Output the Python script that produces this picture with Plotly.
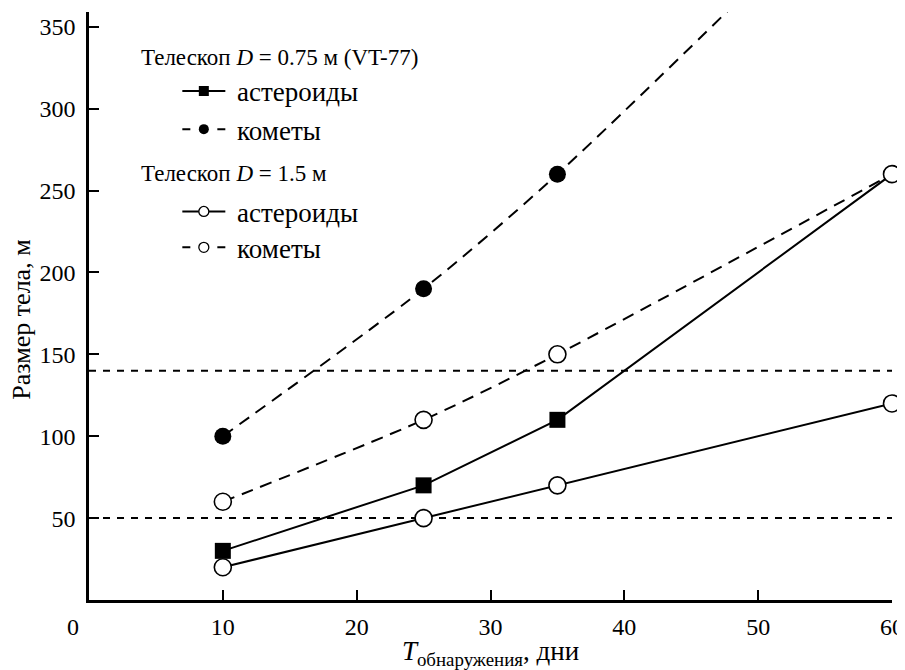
import plotly.graph_objects as go

# ---- data ----
days = [10, 25, 35, 60]
ast_075 = [30, 70, 110, 260]      # Telescope 0.75 m, asteroids
com_075 = [100, 190, 260, 458]    # Telescope 0.75 m, comets (last point off-scale)
ast_15 = [20, 50, 70, 120]        # Telescope 1.5 m, asteroids
com_15 = [60, 110, 150, 260]      # Telescope 1.5 m, comets
thresholds = [50, 140]
x_range = [0, 60]
x_ticks = [10, 20, 30, 40, 50, 60]
y_ticks = [50, 100, 150, 200, 250, 300, 350]

FONT = "Times New Roman"
FS_TICK = 24
FS_HEAD = 23
FS_LEG = 27
FS_XT = 27
FS_YT = 26
BLACK = "black"

fig = go.Figure()

for t in thresholds:
    fig.add_trace(go.Scatter(
        x=x_range, y=[t, t], mode="lines",
        line=dict(color=BLACK, width=2, dash="7px,7px"),
        showlegend=False, hoverinfo="skip"))

fig.add_trace(go.Scatter(
    x=days, y=ast_075, mode="lines+markers",
    line=dict(color=BLACK, width=2),
    marker=dict(symbol="square", size=[16, 16, 16, 0], color=BLACK, opacity=1,
                line=dict(width=0)),
    showlegend=False, cliponaxis=False))

fig.add_trace(go.Scatter(
    x=days, y=ast_15, mode="lines+markers",
    line=dict(color=BLACK, width=2),
    marker=dict(symbol="circle", size=17, color="white", opacity=1,
                line=dict(color=BLACK, width=1.6)),
    showlegend=False, cliponaxis=False))

fig.add_trace(go.Scatter(
    x=days, y=com_075, mode="lines+markers",
    line=dict(color=BLACK, width=2, dash="12px,8px", shape="spline", smoothing=0.8),
    marker=dict(symbol="circle", size=17, color=BLACK, opacity=1, line=dict(width=0)),
    showlegend=False, cliponaxis=True))

fig.add_trace(go.Scatter(
    x=days, y=com_15, mode="lines+markers",
    line=dict(color=BLACK, width=2, dash="12px,8px", shape="spline", smoothing=0.8),
    marker=dict(symbol="circle", size=17, color="white", opacity=1,
                line=dict(color=BLACK, width=1.6)),
    showlegend=False, cliponaxis=False))

legend_items = [
    ("астероиды", "square", BLACK, "solid", "legend"),
    ("кометы", "circle", BLACK, "8px,27px", "legend2"),
    ("астероиды", "circle", "white", "solid", "legend3"),
    ("кометы", "circle", "white", "8px,27px", "legend4"),
]
for name, sym, fill, dash, lg in legend_items:
    fig.add_trace(go.Scatter(
        x=[None], y=[None], mode="lines+markers", name="\u00a0" + name,
        line=dict(color=BLACK, width=2, dash=dash),
        marker=dict(symbol=sym, size=10, color=fill, opacity=1,
                    line=dict(color=BLACK, width=1.3 if fill == "white" else 0)),
        legend=lg, showlegend=True))

leg_rows_y = [0.865, 0.800, 0.660, 0.599]
common_leg = dict(x=0.11, xanchor="left", yanchor="middle", itemwidth=43,
                  font=dict(family=FONT, size=FS_LEG, color=BLACK),
                  bgcolor="rgba(0,0,0,0)", borderwidth=0)

# page body has an 8px margin: figure is sized/offset so the plot area sits
# at the same window pixels as in the reference
fig.update_layout(
    width=897, height=662,
    margin=dict(l=81, r=13, t=4, b=70, autoexpand=False),
    paper_bgcolor="white", plot_bgcolor="white",
    font=dict(family=FONT, size=FS_TICK, color=BLACK),
    legend=dict(y=leg_rows_y[0], **common_leg),
    legend2=dict(y=leg_rows_y[1], **common_leg),
    legend3=dict(y=leg_rows_y[2], **common_leg),
    legend4=dict(y=leg_rows_y[3], **common_leg),
    xaxis=dict(range=x_range, tickvals=x_ticks, ticks="inside", ticklen=10,
               tickwidth=2, tickcolor=BLACK, showline=True, linewidth=2.5,
               linecolor=BLACK, showgrid=False, zeroline=False,
               ticklabelstandoff=3, automargin=False,
               tickfont=dict(family=FONT, size=FS_TICK),
               title=dict(text="<i>T</i><sub>обнаружения</sub>, дни",
                          font=dict(family=FONT, size=FS_XT), standoff=1)),
    yaxis=dict(range=[0, 359], tickvals=y_ticks, ticks="inside", ticklen=10,
               tickwidth=2, tickcolor=BLACK, showline=True, linewidth=2.5,
               linecolor=BLACK, showgrid=False, zeroline=False,
               ticklabelstandoff=6, automargin=False,
               tickfont=dict(family=FONT, size=FS_TICK)),
    showlegend=True,
)

# y-axis title (placed as in the reference, slightly below the axis centre)
fig.add_annotation(text="Размер тела, м", xref="paper", yref="paper",
                   x=-0.084, y=0.476, xanchor="center", yanchor="middle",
                   textangle=-90, showarrow=False,
                   font=dict(family=FONT, size=FS_YT))
fig.add_annotation(text="Телескоп <i>D</i> = 0.75 м (VT-77)", xref="paper", yref="paper",
                   x=0.062, y=0.922, xanchor="left", yanchor="middle",
                   showarrow=False, font=dict(family=FONT, size=FS_HEAD))
fig.add_annotation(text="Телескоп <i>D</i> = 1.5 м", xref="paper", yref="paper",
                   x=0.062, y=0.726, xanchor="left", yanchor="middle",
                   showarrow=False, font=dict(family=FONT, size=FS_HEAD))
fig.add_annotation(text="0", xref="x", yref="paper", x=0, y=0,
                   xanchor="center", yanchor="top", xshift=-16, yshift=-12,
                   showarrow=False, font=dict(family=FONT, size=FS_TICK))

fig.write_html("out.html")
